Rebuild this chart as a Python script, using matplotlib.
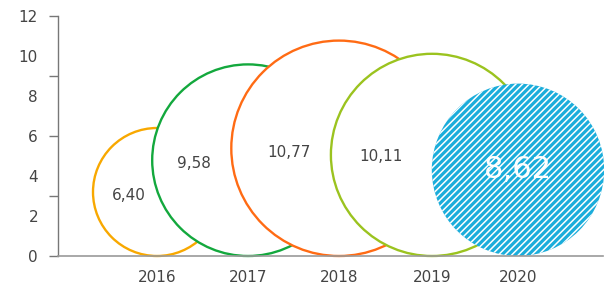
import matplotlib
matplotlib.use("Agg")
import matplotlib.pyplot as plt
from matplotlib.patches import Circle

# ---- data ----
years = ["2016", "2017", "2018", "2019", "2020"]
values = [6.40, 9.58, 10.77, 10.11, 8.62]
value_labels = ["6,40", "9,58", "10,77", "10,11", "8,62"]
y_ticks = [0, 2, 4, 6, 8, 10, 12]
y_minor_ticks = [0, 3, 6, 9, 12]

# ---- layout / style ----
x_centers = [4.95, 9.5, 14.05, 18.7, 23.0]          # category positions (data units)
label_dx = [-1.43, -2.7, -2.5, -2.55, 0.0]
label_dy = [-0.2, -0.14, -0.19, -0.1, 0.0]
edge_colors = ["#F8A800", "#13A83D", "#FF6B14", "#9BC31F", None]
blue = "#1BADDB"
text_color = "#444444"

plt.rcParams['font.family'] = ['DejaVu Sans']
plt.rcParams['hatch.linewidth'] = 1.1

W, H = 604, 286
fig = plt.figure(figsize=(W / 100, H / 100), dpi=100)
ax = fig.add_axes([58 / W, 30 / H, 545 / W, 240 / H])
ax.set_xlim(0, 545 / 20)
ax.set_ylim(0, 12)

for i, v in enumerate(values):
    r = v / 2
    if edge_colors[i] is not None:
        c = Circle((x_centers[i], r), r, facecolor="white", edgecolor=edge_colors[i],
                   linewidth=1.7, zorder=2 + i, clip_on=False)
        ax.add_patch(c)
        ax.text(x_centers[i] + label_dx[i], r + label_dy[i], value_labels[i],
                ha="center", va="center", fontsize=11, color=text_color, zorder=10)
    else:
        c = Circle((x_centers[i], r), r, facecolor=blue, edgecolor="white",
                   linewidth=0, hatch="/////", zorder=2 + i, clip_on=False)
        ax.add_patch(c)
        ax.text(x_centers[i] + label_dx[i], r + label_dy[i], value_labels[i],
                ha="center", va="center", fontsize=22, fontweight="medium",
                color="white", zorder=10)

# spines
for s in ["top", "right"]:
    ax.spines[s].set_visible(False)
ax.spines["left"].set_color("#777777")
ax.spines["left"].set_linewidth(1.0)
ax.spines["bottom"].set_color("#9a9a9a")
ax.spines["bottom"].set_linewidth(1.2)
ax.spines["bottom"].set_zorder(20)

# y ticks
ax.yaxis.remove_overlapping_locs = False
ax.set_yticks(y_ticks)
ax.set_yticklabels([str(t) for t in y_ticks])
ax.set_yticks(y_minor_ticks, minor=True)
ax.tick_params(axis="y", which="major", length=0, pad=14.4, labelsize=11,
               labelcolor=text_color)
ax.tick_params(axis="y", which="minor", length=6.5, width=1.0, color="#777777")

# x ticks
ax.set_xticks(x_centers)
ax.set_xticklabels(years)
ax.tick_params(axis="x", length=0, pad=10, labelsize=11, labelcolor=text_color)

fig.savefig("out.png", dpi=100)
